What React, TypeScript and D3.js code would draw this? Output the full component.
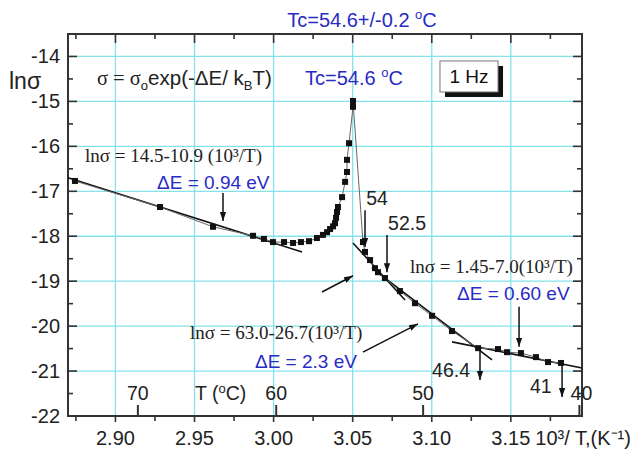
import React, { useEffect, useRef } from 'react';
import * as d3 from 'd3';

// ln(sigma) vs 1000/T, 1 Hz
const xTicks = [2.90, 2.95, 3.00, 3.05, 3.10, 3.15];
const yTicks = [-14, -15, -16, -17, -18, -19, -20, -21, -22];
const celsiusTicks = [70, 60, 50, 40];

const invT = [
  2.8744, 2.9282, 2.9617, 2.9870, 2.9939, 2.9996, 3.0066, 3.0123, 3.0173, 3.0224,
  3.0274, 3.0312, 3.0338, 3.0357, 3.0376, 3.0388, 3.0395, 3.0401, 3.0407, 3.0433,
  3.0452, 3.0464, 3.0464, 3.0477, 3.0502, 3.0502,
  3.0565, 3.0578, 3.0610, 3.0641, 3.0660, 3.0704, 3.0799, 3.0894, 3.1002, 3.1128,
  3.1293, 3.1419, 3.1476, 3.1564, 3.1659, 3.1735, 3.1817
];
const lnSigma = [
  -16.77, -17.35, -17.79, -17.99, -18.06, -18.13, -18.13, -18.15, -18.13, -18.11,
  -18.04, -17.97, -17.91, -17.84, -17.78, -17.71, -17.59, -17.46, -17.35, -17.13,
  -16.79, -16.57, -16.30, -15.93, -15.12, -14.99,
  -18.13, -18.35, -18.53, -18.71, -18.80, -18.93, -19.22, -19.49, -19.77, -20.11,
  -20.49, -20.51, -20.58, -20.60, -20.69, -20.80, -20.82
];

// fitted straight lines [x1, y1, x2, y2]
const fitLines = [
  [2.870, -16.70, 3.018, -18.35],
  [3.0502, -18.15, 3.0831, -19.42],
  [3.0622, -18.71, 3.1381, -20.75],
  [3.1128, -20.35, 3.195, -20.93]
];

// annotation arrows [x1, y1, x2, y2]
const arrows = [
  [2.968, -17.04, 2.968, -17.66],
  [3.0578, -17.42, 3.0578, -18.24],
  [3.0717, -17.97, 3.0717, -18.80],
  [3.0306, -19.24, 3.0502, -18.88],
  [3.1552, -19.57, 3.1552, -20.46],
  [3.0565, -20.58, 3.0913, -19.95],
  [3.1305, -20.49, 3.1305, -21.20],
  [3.1824, -20.80, 3.1824, -21.58]
];

const tempLabels = [
  { x: 3.0654, y: -17.30, text: '54', anchor: 'middle' },
  { x: 3.0844, y: -17.86, text: '52.5', anchor: 'middle' },
  { x: 3.1002, y: -21.13, text: '46.4', anchor: 'start' },
  { x: 3.1621, y: -21.49, text: '41', anchor: 'start' }
];

const fitEquations = [
  { x: 2.8807, y: -16.35, text: 'lnσ = 14.5-10.9 (10³/T)' },
  { x: 3.0863, y: -18.82, text: 'lnσ = 1.45-7.0(10³/T)' },
  { x: 2.9471, y: -20.29, text: 'lnσ = 63.0-26.7(10³/T)' }
];

const energies = [
  { x: 2.9263, y: -16.95, text: 'ΔE = 0.94 eV' },
  { x: 3.1160, y: -19.42, text: 'ΔE = 0.60 eV' },
  { x: 2.9882, y: -20.93, text: 'ΔE = 2.3 eV' }
];

const SANS = 'Liberation Sans, Arial, sans-serif';
const SERIF = 'Liberation Serif, Times New Roman, serif';
const BLUE = '#2a2ac4';
const GRID = '#86e2ea';

function Chart() {
  const ref = useRef<SVGSVGElement | null>(null);
  const width = 633;
  const height = 452;
  const margin = { top: 34, right: 51, bottom: 36, left: 68 };

  useEffect(() => {
    const svg = d3.select(ref.current);
    svg.selectAll('*').remove();

    const x = d3.scaleLinear().domain([2.87, 3.195]).range([margin.left, width - margin.right]);
    const y = d3.scaleLinear().domain([-22, -13.5]).range([height - margin.bottom, margin.top]);
    const [x0, x1] = x.range();
    const [y0, y1] = y.range();

    svg.append('defs').append('marker')
      .attr('id', 'head')
      .attr('viewBox', '0 0 10 10')
      .attr('refX', 10).attr('refY', 5)
      .attr('markerWidth', 9).attr('markerHeight', 9)
      .attr('markerUnits', 'userSpaceOnUse')
      .attr('orient', 'auto')
      .append('path').attr('d', 'M0,1.5 L10,5 L0,8.5 Z').attr('fill', '#111');

    // grid
    svg.append('g').selectAll('line').data(xTicks).join('line')
      .attr('x1', d => x(d)).attr('x2', d => x(d)).attr('y1', y0).attr('y2', y1)
      .attr('stroke', GRID).attr('stroke-width', 1.3);
    svg.append('g').selectAll('line').data(yTicks.slice(0, -1)).join('line')
      .attr('y1', d => y(d)).attr('y2', d => y(d)).attr('x1', x0).attr('x2', x1)
      .attr('stroke', GRID).attr('stroke-width', 1.3);

    // frame
    svg.append('rect').attr('x', x0).attr('y', y1).attr('width', x1 - x0).attr('height', y0 - y1)
      .attr('fill', 'none').attr('stroke', '#333').attr('stroke-width', 2);

    const xMinor = d3.range(2.875, 3.195, 0.025);
    const yMinor = d3.range(-21.5, -13.5, 1);
    const ticks = svg.append('g').attr('stroke', '#333').attr('stroke-width', 1.6);
    const xAll = xMinor.map(v => ({ v, major: xTicks.some(t => Math.abs(t - v) < 1e-6) }));
    xAll.forEach(({ v, major }) => {
      const len = major ? 9 : 5;
      ticks.append('line').attr('x1', x(v)).attr('x2', x(v)).attr('y1', y1).attr('y2', y1 + len);
      ticks.append('line').attr('x1', x(v)).attr('x2', x(v)).attr('y1', y0).attr('y2', y0 + (major ? 6 : 5));
    });
    yTicks.slice(0, -1).forEach(v => {
      ticks.append('line').attr('y1', y(v)).attr('y2', y(v)).attr('x1', x0).attr('x2', x0 + 9);
      ticks.append('line').attr('y1', y(v)).attr('y2', y(v)).attr('x1', x1).attr('x2', x1 - 9);
    });
    yMinor.forEach(v => {
      ticks.append('line').attr('y1', y(v)).attr('y2', y(v)).attr('x1', x0).attr('x2', x0 + 5);
      ticks.append('line').attr('y1', y(v)).attr('y2', y(v)).attr('x1', x1).attr('x2', x1 - 5);
    });

    // tick labels
    svg.append('g').selectAll('text').data(yTicks).join('text')
      .attr('x', x0 - 8).attr('y', d => y(d) + 7)
      .attr('text-anchor', 'end').attr('font-family', SANS).attr('font-size', 20).attr('fill', '#222')
      .text(d => d);
    svg.append('g').selectAll('text').data(xTicks).join('text')
      .attr('x', d => x(d)).attr('y', y0 + 29)
      .attr('text-anchor', 'middle').attr('font-family', SANS).attr('font-size', 20).attr('fill', '#222')
      .text(d => d.toFixed(2));

    svg.append('text').attr('x', x(3.1655)).attr('y', y0 + 29)
      .attr('font-family', SANS).attr('font-size', 20).attr('fill', '#222')
      .text('10³/ T,(K⁻¹)');
    svg.append('text').attr('x', 9).attr('y', 89)
      .attr('font-family', SANS).attr('font-size', 23).attr('fill', '#222')
      .text('lnσ');

    // celsius scale inside the plot
    const cx = (t: number) => x(1000 / (t + 273.15));
    svg.append('g').selectAll('line').data(celsiusTicks).join('line')
      .attr('x1', d => cx(d)).attr('x2', d => cx(d)).attr('y1', y0).attr('y2', y0 - 11)
      .attr('stroke', '#333').attr('stroke-width', 2);
    svg.append('g').selectAll('text').data(celsiusTicks).join('text')
      .attr('x', d => cx(d) + (d === 40 ? 2 : 0)).attr('y', y(-21.64))
      .attr('text-anchor', 'middle').attr('font-family', SANS).attr('font-size', 19.5).attr('fill', '#222')
      .text(d => d);
    const tc = svg.append('text').attr('x', x(2.9503)).attr('y', y(-21.64))
      .attr('font-family', SANS).attr('font-size', 19.5).attr('fill', '#222');
    tc.append('tspan').text('T (');
    tc.append('tspan').attr('font-size', 13).attr('dy', -7).text('o');
    tc.append('tspan').attr('dy', 7).text('C)');

    // fits
    svg.append('g').selectAll('line').data(fitLines).join('line')
      .attr('x1', d => x(d[0])).attr('y1', d => y(d[1]))
      .attr('x2', d => x(d[2])).attr('y2', d => y(d[3]))
      .attr('stroke', '#111').attr('stroke-width', 1.6);

    // data
    const pts = invT.map((v, i) => [v, lnSigma[i]] as [number, number]);
    svg.append('path')
      .attr('d', d3.line<[number, number]>().x(d => x(d[0])).y(d => y(d[1]))(pts))
      .attr('fill', 'none').attr('stroke', '#666').attr('stroke-width', 1);
    svg.append('g').selectAll('rect').data(pts).join('rect')
      .attr('x', d => x(d[0]) - 3).attr('y', d => y(d[1]) - 3)
      .attr('width', 6).attr('height', 6).attr('fill', '#111');

    // arrows
    svg.append('g').selectAll('line').data(arrows).join('line')
      .attr('x1', d => x(d[0])).attr('y1', d => y(d[1]))
      .attr('x2', d => x(d[2])).attr('y2', d => y(d[3]))
      .attr('stroke', '#111').attr('stroke-width', 1.5)
      .attr('marker-end', 'url(#head)');

    svg.append('g').selectAll('text').data(tempLabels).join('text')
      .attr('x', d => x(d.x)).attr('y', d => y(d.y))
      .attr('text-anchor', d => d.anchor).attr('font-family', SANS).attr('font-size', 19.5).attr('fill', '#222')
      .text(d => d.text);

    svg.append('g').selectAll('text').data(fitEquations).join('text')
      .attr('x', d => x(d.x)).attr('y', d => y(d.y))
      .attr('font-family', SERIF).attr('font-size', 19).attr('fill', '#222')
      .text(d => d.text);

    svg.append('g').selectAll('text').data(energies).join('text')
      .attr('x', d => x(d.x)).attr('y', d => y(d.y))
      .attr('font-family', SANS).attr('font-size', 19).attr('fill', BLUE)
      .text(d => d.text);

    // formula
    const eq = svg.append('text').attr('x', x(2.8883)).attr('y', y(-14.63))
      .attr('font-family', SANS).attr('font-size', 20.5).attr('fill', '#222');
    eq.append('tspan').attr('font-family', SERIF).text('σ = σ');
    eq.append('tspan').attr('font-size', 13).attr('dy', 5).text('o');
    eq.append('tspan').attr('dy', -5).text('exp(-ΔE/ k');
    eq.append('tspan').attr('font-size', 13).attr('dy', 5).text('B');
    eq.append('tspan').attr('dy', -5).text('T)');

    const tcLabel = svg.append('text').attr('x', x(3.0199)).attr('y', y(-14.63))
      .attr('font-family', SANS).attr('font-size', 20).attr('fill', BLUE);
    tcLabel.append('tspan').text('Tc=54.6 ');
    tcLabel.append('tspan').attr('font-size', 13).attr('dy', -8).text('o');
    tcLabel.append('tspan').attr('dy', 8).text('C');

    const title = svg.append('text').attr('x', 362).attr('y', 27).attr('text-anchor', 'middle')
      .attr('font-family', SANS).attr('font-size', 20).attr('fill', BLUE);
    title.append('tspan').text('Tc=54.6+/-0.2 ');
    title.append('tspan').attr('font-size', 13).attr('dy', -8).text('o');
    title.append('tspan').attr('dy', 8).text('C');

    // frequency box
    const bx0 = x(3.1052), bx1 = x(3.1419), by0 = y(-14.10), by1 = y(-14.79);
    svg.append('rect').attr('x', bx0 + 5).attr('y', by0 + 5).attr('width', bx1 - bx0).attr('height', by1 - by0)
      .attr('fill', '#111');
    svg.append('rect').attr('x', bx0).attr('y', by0).attr('width', bx1 - bx0).attr('height', by1 - by0)
      .attr('fill', '#fff').attr('stroke', '#777').attr('stroke-width', 1);
    svg.append('text').attr('x', (bx0 + bx1) / 2).attr('y', by1 - 9).attr('text-anchor', 'middle')
      .attr('font-family', SANS).attr('font-size', 19).attr('fill', '#111')
      .text('1 Hz');
  }, []);

  return <svg ref={ref} width={width} height={height} style={{ display: 'block' }} />;
}

export default function App() {
  return (
    <div style={{ position: 'absolute', top: 0, left: 0, background: '#fff' }}>
      <Chart />
    </div>
  );
}
